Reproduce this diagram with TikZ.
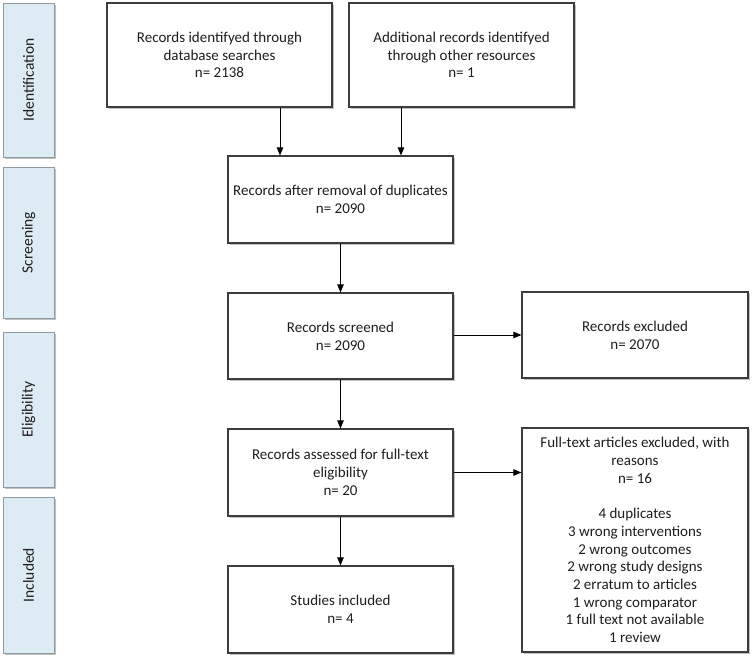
\documentclass[tikz,border=0pt]{standalone}
\usepackage{fontspec}
\setmainfont{Carlito}
\usetikzlibrary{arrows.meta,shadows}
\definecolor{sidefill}{HTML}{DDEBF4}
\definecolor{sidedraw}{HTML}{8E99A2}
\definecolor{boxdraw}{HTML}{3C3C3C}
\definecolor{txt}{HTML}{1E1E1E}
\begin{document}
\begin{tikzpicture}[x=1pt,y=-1pt,
  every node/.style={font=\fontsize{15}{17.7}\selectfont, text=txt},
  sidetext/.style={rotate=90, font=\fontsize{15.5}{18}\selectfont},
  flowbox/.style={draw=boxdraw, line width=1.2pt, fill=white, align=center, inner sep=0pt,
    drop shadow={shadow xshift=1.6pt, shadow yshift=-1.6pt, opacity=0.35, fill=black!70}},
  sidebox/.style={draw=sidedraw, line width=0.9pt, fill=sidefill, inner sep=0pt,
    minimum width=51pt,
    drop shadow={shadow xshift=1.6pt, shadow yshift=-1.6pt, opacity=0.35, fill=black!70}},
  arr/.style={draw=black, line width=0.9pt, -{Triangle[length=8pt,width=6.5pt]}}]
\useasboundingbox (0,0) rectangle (756,661);
\fill[white] (0,0) rectangle (756,661);
% side labels
\node[sidebox, minimum height=154pt] (sid) at (28.5,80) {};
\node[sidetext] (tid) at (sid.center) {Identification};
\node[sidebox, minimum height=151pt] (ssc) at (28.5,242.5) {};
\node[sidetext] (tsc) at (ssc.center) {Screening};
\node[sidebox, minimum height=155pt] (sel) at (28.5,409.5) {};
\node[sidetext] (tel) at (sel.center) {Eligibility};
\node[sidebox, minimum height=156pt] (sin) at (28.5,575) {};
\node[sidetext] (tin) at (sin.center) {Included};
% main boxes
\node[flowbox, minimum width=225pt, minimum height=104pt] (b1) at (219.5,55)
  {Records identifyed through\\database searches\\n= 2138};
\node[flowbox, minimum width=225pt, minimum height=104pt] (b2) at (461.5,55)
  {Additional records identifyed\\through other resources\\n= 1};
\node[flowbox, minimum width=225pt, minimum height=87pt] (b3) at (340.5,199.5)
  {Records after removal of duplicates\\n= 2090};
\node[flowbox, minimum width=225pt, minimum height=86pt] (b4) at (340.5,336)
  {Records screened\\n= 2090};
\node[flowbox, minimum width=225pt, minimum height=87pt] (b5) at (340.5,472.5)
  {Records assessed for full-text\\eligibility\\n= 20};
\node[flowbox, minimum width=225pt, minimum height=87pt] (b6) at (340.5,609.5)
  {Studies included\\n= 4};
\node[flowbox, minimum width=226pt, minimum height=86pt] (e1) at (635,335)
  {Records excluded\\n= 2070};
\node[flowbox, minimum width=226pt, minimum height=224pt] (e2) at (635,540)
  {Full-text articles excluded, with\\reasons\\n= 16\\[17.7pt]4 duplicates\\3 wrong interventions\\2 wrong outcomes\\2 wrong study designs\\2 erratum to articles\\1 wrong comparator\\1 full text not available\\1 review};
% arrows
\draw[arr] ([xshift=60.5pt]b1.south) -- ([xshift=60.5pt]b1.south |- b3.north);
\draw[arr] ([xshift=-60.5pt]b2.south) -- ([xshift=-60.5pt]b2.south |- b3.north);
\draw[arr] (b3.south) -- (b4.north);
\draw[arr] (b4.south) -- (b5.north);
\draw[arr] (b5.south) -- (b6.north);
\draw[arr] (b4.east |- e1.west) -- (e1.west);
\draw[arr] (b5.east) -- (b5.east -| e2.west);
\end{tikzpicture}
\end{document}
